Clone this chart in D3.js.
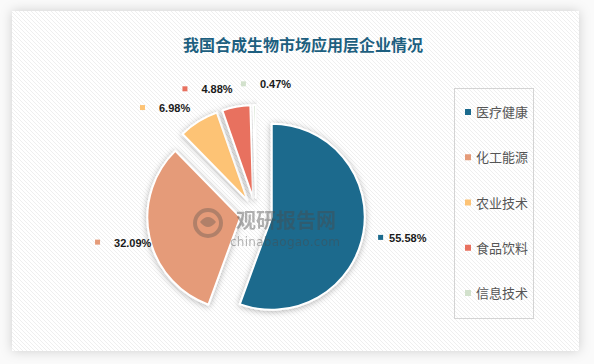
<!DOCTYPE html>
<html><head><meta charset="utf-8">
<script src="https://cdn.jsdelivr.net/npm/d3@7/dist/d3.min.js"></script>
<style>html,body{margin:0;padding:0;background:#fff;}svg{display:block;}</style>
</head><body>
<script>
const title = "我国合成生物市场应用层企业情况";
const categories = ["医疗健康", "化工能源", "农业技术", "食品饮料", "信息技术"];
const values = [55.58, 32.09, 6.98, 4.88, 0.47];
const labels = ["55.58%", "32.09%", "6.98%", "4.88%", "0.47%"];
const colors = ["#1b6a8d", "#e59b79", "#fdc375", "#e8715f", "#d2e1cc"];

const W = 594, H = 364;
const svg = d3.select("body").append("svg").attr("width", W).attr("height", H);
const defs = svg.append("defs");

// stripe pattern
const pat = defs.append("pattern").attr("id", "stripes").attr("patternUnits", "userSpaceOnUse")
  .attr("width", 4).attr("height", 4);
pat.append("rect").attr("width", 4).attr("height", 4).attr("fill", "#ffffff");
pat.append("path").attr("d", "M-1,-1 L5,5 M-1,3 L1,5 M3,-1 L5,1").attr("stroke", "#efefef").attr("stroke-width", 1);

const fPanel = defs.append("filter").attr("id", "panelShadow").attr("x", "-10%").attr("y", "-10%").attr("width", "120%").attr("height", "120%");
fPanel.append("feDropShadow").attr("dx", 0).attr("dy", 0).attr("stdDeviation", 6).attr("flood-color", "#000").attr("flood-opacity", 0.18);

const fSlice = defs.append("filter").attr("id", "sliceShadow").attr("x", "-30%").attr("y", "-30%").attr("width", "160%").attr("height", "160%");
fSlice.append("feDropShadow").attr("dx", 0).attr("dy", 1).attr("stdDeviation", 3).attr("flood-color", "#000").attr("flood-opacity", 0.3);

svg.append("rect").attr("width", W).attr("height", H).attr("fill", "#fafafa");
svg.append("rect").attr("x", 12).attr("y", 11).attr("width", 567).attr("height", 340)
  .attr("fill", "url(#stripes)").attr("filter", "url(#panelShadow)");

// title
svg.append("text").attr("x", 303).attr("y", 51).attr("text-anchor", "middle")
  .attr("font-family", "'Noto Sans CJK SC', sans-serif").attr("font-weight", "bold")
  .attr("font-size", 16).attr("fill", "#1d5f80").text(title);

// pie
const cx = 256, cy = 214, R = 93, explode = 16;
const pie = d3.pie().sort(null).value(d => d).startAngle(0).endAngle(2 * Math.PI);
const arcs = pie(values);
const arcGen = d3.arc().innerRadius(0).outerRadius(R);
const g = svg.append("g").attr("transform", `translate(${cx},${cy})`);

g.selectAll("path.slice").data(arcs).enter().append("path")
  .attr("class", "slice")
  .attr("transform", d => {
    const m = (d.startAngle + d.endAngle) / 2;
    return `translate(${explode * Math.sin(m)},${-explode * Math.cos(m)})`;
  })
  .attr("d", arcGen)
  .attr("fill", (d, i) => colors[i])
  .attr("stroke", "#fff").attr("stroke-width", 2).attr("stroke-linejoin", "round")
  .attr("filter", "url(#sliceShadow)");

// watermark
const wm = svg.append("g").attr("opacity", 0.42);
wm.append("circle").attr("cx", 208).attr("cy", 223).attr("r", 13).attr("fill", "none").attr("stroke", "#6b5d55").attr("stroke-width", 4);
wm.append("path").attr("d", "M200,222 Q208,212 216,222 Q208,232 200,222 Z").attr("fill", "#6b5d55");
wm.append("text").attr("x", 236).attr("y", 228).attr("font-family", "'Noto Sans CJK SC', sans-serif")
  .attr("font-weight", "bold").attr("font-size", 20).attr("fill", "#4a4a4a").text("观研报告网");
wm.append("text").attr("x", 230).attr("y", 246).attr("font-family", "'DejaVu Sans', sans-serif")
  .attr("font-size", 12).attr("fill", "#4a4a4a").attr("textLength", 110).text("chinabaogao.com");

// data labels (layout nudges)
const labelNudge = [{da: -1, dr: 12}, {da: 0, dr: -4}, {da: -9, dr: 0}, {da: -11, dr: -6}, {da: 5, dr: -10}];
const labR = 140;
const lg = svg.append("g").attr("transform", `translate(${cx},${cy})`);
arcs.forEach((d, i) => {
  const m = (d.startAngle + d.endAngle) / 2 + labelNudge[i].da * Math.PI / 180;
  const r = labR + labelNudge[i].dr;
  const x = r * Math.sin(m), y = -r * Math.cos(m);
  const grp = lg.append("g").attr("transform", `translate(${x},${y})`);
  const total = 5 + 14 + (labels[i].length === 6 ? 37 : 30);
  const left = -total / 2;
  grp.append("rect").attr("x", left).attr("y", -3).attr("width", 5).attr("height", 5).attr("fill", colors[i]);
  grp.append("text").attr("x", left + (i === 0 ? 11 : 19)).attr("y", 4)
    .attr("font-family", "'Liberation Sans', Arial, sans-serif").attr("font-weight", "bold")
    .attr("font-size", 11).attr("fill", "#1a1a1a").text(labels[i]);
});

// legend
const lx = 454, ly = 88, lw = 79, lh = 230;
svg.append("rect").attr("x", lx + 0.5).attr("y", ly + 0.5).attr("width", lw).attr("height", lh)
  .attr("fill", "none").attr("stroke", "#d4d4d4").attr("stroke-width", 1);
const ys = d3.scalePoint().domain(categories).range([112, 293]);
const leg = svg.append("g").selectAll("g").data(categories).enter().append("g")
  .attr("transform", d => `translate(${lx + 11},${ys(d)})`);
leg.append("rect").attr("x", 0).attr("y", -3).attr("width", 6).attr("height", 6).attr("fill", (d, i) => colors[i]);
leg.append("text").attr("x", 11).attr("y", 5)
  .attr("font-family", "'Noto Sans CJK SC', sans-serif").attr("font-size", 13)
  .attr("fill", "#555").text(d => d);
</script>
</body></html>
